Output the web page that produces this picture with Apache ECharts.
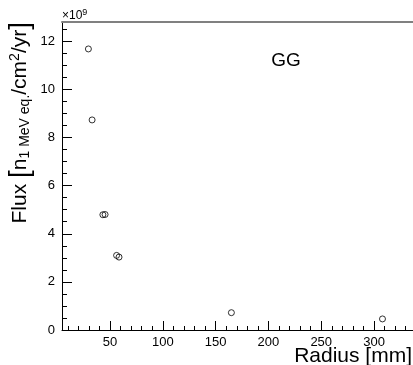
<!DOCTYPE html>
<html>
<head>
<meta charset="utf-8">
<script src="https://cdn.jsdelivr.net/npm/echarts@6/dist/echarts.min.js"></script>
<style>
html,body{margin:0;padding:0;background:#fff;}
#c{width:413px;height:365px;}
</style>
</head>
<body>
<div id="c"></div>
<script>
// Data (flux in units of 1e9)
var radius = [29.5, 33, 43.2, 45.3, 56.2, 58.5, 164.9, 308];
var flux   = [11.68, 8.73, 4.79, 4.80, 3.10, 3.03, 0.72, 0.46];
var xMajorTicks = [50, 100, 150, 200, 250, 300];
var xMinorTicks = [10,20,30,40,50,60,70,80,90,100,110,120,130,140,150,160,170,180,190,200,210,220,230,240,250,260,270,280,290,300,310,320,330];
var yMajorTicks = [0, 2, 4, 6, 8, 10, 12];
var yMinorTicks = [0.5,1,1.5,2,2.5,3,3.5,4,4.5,5,5.5,6,6.5,7,7.5,8,8.5,9,9.5,10,10.5,11,11.5,12,12.5];
var xRange = [4.5, 336.9];
var yRange = [0, 12.8];

var font = 'Liberation Sans, Arial, Helvetica, sans-serif';
var chart = echarts.init(document.getElementById('c'));
var pts = radius.map(function(r, i){ return [r, flux[i]]; });

chart.setOption({
  animation: false,
  backgroundColor: '#fff',
  grid: {left: 62, right: 0, top: 22, bottom: 35},
  xAxis: [
    {
      type: 'value', min: xRange[0], max: xRange[1], position: 'bottom',
      axisLine: {show: true, lineStyle: {color: '#000', width: 1}},
      axisTick: {show: true, inside: true, length: 9, customValues: xMajorTicks, lineStyle: {color: '#000'}},
      axisLabel: {show: true, customValues: xMajorTicks, margin: 6, color: '#000', fontSize: 13, fontFamily: font},
      splitLine: {show: false}
    },
    {
      type: 'value', min: xRange[0], max: xRange[1], position: 'bottom', gridIndex: 0,
      axisLine: {show: false},
      axisTick: {show: true, inside: true, length: 4, customValues: xMinorTicks, lineStyle: {color: '#000'}},
      axisLabel: {show: false},
      splitLine: {show: false}
    },
    {
      type: 'value', min: xRange[0], max: xRange[1], position: 'top',
      axisLine: {show: true, lineStyle: {color: '#808080', width: 2}},
      axisTick: {show: false}, axisLabel: {show: false}, splitLine: {show: false}
    }
  ],
  yAxis: [
    {
      type: 'value', min: yRange[0], max: yRange[1], position: 'left',
      axisLine: {show: true, lineStyle: {color: '#000', width: 1}},
      axisTick: {show: true, inside: true, length: 10, customValues: yMajorTicks, lineStyle: {color: '#000'}},
      axisLabel: {show: true, customValues: yMajorTicks, margin: 7, color: '#000', fontSize: 13, fontFamily: font},
      splitLine: {show: false}
    },
    {
      type: 'value', min: yRange[0], max: yRange[1], position: 'left',
      axisLine: {show: false},
      axisTick: {show: true, inside: true, length: 5, customValues: yMinorTicks, lineStyle: {color: '#000'}},
      axisLabel: {show: false},
      splitLine: {show: false}
    }
  ],
  series: [{
    type: 'scatter',
    xAxisIndex: 0, yAxisIndex: 0,
    data: pts,
    symbol: 'circle',
    symbolSize: 6,
    itemStyle: {color: 'rgba(255,255,255,0)', borderColor: '#000', borderWidth: 1}
  }],
  graphic: [
    {
      type: 'text', left: 62, top: 8,
      style: {
        text: '×10{s|9}', fill: '#000', font: '12px ' + font,
        rich: {s: {fontSize: 9, verticalAlign: 'top', padding: [0,0,6,0], fontFamily: font}}
      }
    },
    {
      type: 'text', x: 286, y: 61,
      style: {text: 'GG', fill: '#000', font: '19px ' + font, align: 'center', verticalAlign: 'middle'}
    },
    {
      type: 'text', x: 412, y: 367,
      style: {text: 'Radius [mm]', fill: '#000', font: '21px ' + font, align: 'right', verticalAlign: 'bottom'}
    },
    {
      type: 'text', x: 20, y: 22, rotation: Math.PI / 2,
      style: {
        text: '{m|Flux }{b|[}{m|n}{sub|1 MeV eq.}{m|/cm}{sup|2}{m|/yr}{b|]}',
        fill: '#000', align: 'right', verticalAlign: 'middle',
        rich: {
          m: {fontSize: 21, fontFamily: font, fill: '#000'},
          b: {fontSize: 28, fontFamily: font, fill: '#000'},
          sub: {fontSize: 14, fontFamily: font, fill: '#000', padding: [10,0,0,0]},
          sup: {fontSize: 14, fontFamily: font, fill: '#000', padding: [0,0,10,0]}
        }
      }
    }
  ]
});
</script>
</body>
</html>
